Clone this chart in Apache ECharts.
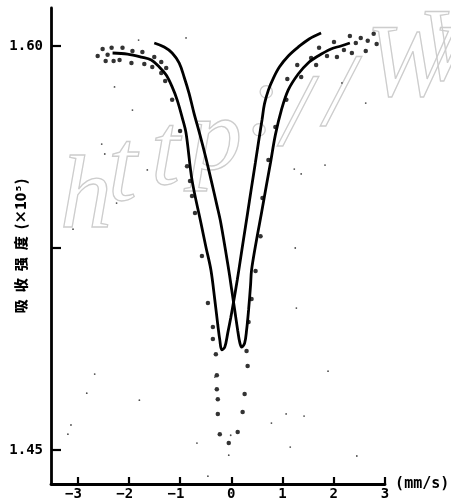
<!DOCTYPE html>
<html>
<head>
<meta charset="utf-8">
<script src="https://cdn.jsdelivr.net/npm/echarts@6/dist/echarts.min.js"></script>
<style>
html,body{margin:0;padding:0;background:#fff;}
#chart{width:451px;height:504px;}
</style>
</head>
<body>
<div id="chart"></div>
<script>
// ---- axis ticks / labels ----
const xTicks = [-3, -2, -1, 0, 1, 2, 3];
const yTicks = [1.45, 1.525, 1.60];
const yLabels = [1.45, 1.60];

// ---- fitted curve 1 (left minimum) ----
const fitA = [
  [-2.318,1.5974],[-2.027,1.5970],[-1.756,1.5959],[-1.562,1.5948],[-1.407,1.5922],
  [-1.271,1.5892],[-1.155,1.5848],[-1.058,1.5800],[-0.961,1.5736],[-0.884,1.5677],
  [-0.767,1.5502],[-0.593,1.5343],[-0.496,1.5254],[-0.399,1.5169],[-0.322,1.5057],
  [-0.264,1.4965],[-0.225,1.4909],[-0.186,1.4872],[-0.128,1.4882],[-0.070,1.4934],
  [-0.012,1.4990],[0.047,1.5053],[0.116,1.5131],[0.176,1.5205],[0.236,1.5280],
  [0.318,1.5380],[0.386,1.5465],[0.469,1.5566],[0.537,1.5651],[0.599,1.5725],
  [0.647,1.5785],[0.725,1.5837],[0.822,1.5881],[0.938,1.5922],[1.112,1.5963],
  [1.306,1.5996],[1.519,1.6026],[1.752,1.6048]
];

// ---- fitted curve 2 (right minimum) ----
const fitB = [
  [-1.504,1.6011],[-1.310,1.5996],[-1.155,1.5974],[-1.019,1.5937],[-0.922,1.5885],
  [-0.826,1.5825],[-0.729,1.5751],[-0.612,1.5670],[-0.496,1.5584],[-0.380,1.5491],
  [-0.283,1.5410],[-0.205,1.5343],
  [-0.050,1.5168],[0.008,1.5094],[0.066,1.5020],[0.124,1.4945],[0.163,1.4901],
  [0.202,1.4882],[0.260,1.4897],[0.298,1.4945],[0.337,1.5020],[0.376,1.5113],
  [0.395,1.5168],[0.492,1.5280],[0.589,1.5380],[0.686,1.5484],[0.764,1.5566],
  [0.860,1.5670],[0.977,1.5762],[1.112,1.5837],[1.306,1.5896],[1.500,1.5937],
  [1.694,1.5963],[1.946,1.5989],[2.140,1.6000],[2.314,1.6011]
];

// ---- measured points ----
const points = [
  [-2.609,1.5963],[-2.512,1.5989],[-2.453,1.5944],[-2.415,1.5967],[-2.337,1.5993],
  [-2.298,1.5944],[-2.182,1.5948],[-2.124,1.5993],[-1.950,1.5937],[-1.930,1.5981],
  [-1.736,1.5978],[-1.698,1.5933],[-1.543,1.5922],[-1.504,1.5959],[-1.368,1.5941],
  [-1.271,1.5918],[-1.368,1.5900],[-1.291,1.5870],[-1.155,1.5800],[-1.000,1.5684],
  [-0.864,1.5554],[-0.806,1.5499],[-0.767,1.5443],[-0.709,1.5380],[-0.574,1.5220],
  [-0.457,1.5046],[-0.360,1.4957],[-0.360,1.4912],[-0.302,1.4856],[-0.283,1.4778],
  [-0.283,1.4726],[-0.264,1.4689],[-0.264,1.4634],[-0.225,1.4559],[-0.050,1.4526],
  [0.124,1.4567],[0.221,1.4641],[0.260,1.4708],[0.318,1.4812],[0.298,1.4868],
  [0.337,1.4975],[0.395,1.5061],[0.473,1.5165],[0.570,1.5294],[0.608,1.5436],
  [0.725,1.5577],[0.860,1.5699],[1.074,1.5800],[1.093,1.5877],[1.287,1.5929],
  [1.364,1.5885],[1.558,1.5955],[1.655,1.5929],[1.713,1.5993],[1.868,1.5963],
  [2.004,1.6015],[2.062,1.5959],[2.198,1.5985],[2.314,1.6037],[2.353,1.5974],
  [2.430,1.6011],[2.527,1.6030],[2.624,1.5981],[2.663,1.6019],[2.779,1.6045],
  [2.837,1.6007]
];

// ---- small points / specks ----
const specks = [
  [-0.050,1.4481],[-0.012,1.4555],[-0.884,1.6030],[-0.322,1.4771],
  [-1.810,1.6022],[-2.280,1.5848],[-1.930,1.5762],[-2.667,1.4782],[-2.822,1.4711],
  [-3.130,1.4593],[-3.190,1.4559],[-1.795,1.4685],[-0.671,1.4526],[-0.457,1.4403],
  [0.783,1.4600],[1.248,1.5250],[1.229,1.5543],[1.364,1.5525],[1.829,1.5558],
  [2.159,1.5863],[2.624,1.5788],[1.270,1.5027],[1.888,1.4793],[1.070,1.4634],
  [1.420,1.4626],[1.150,1.4511],[2.450,1.4478],[-2.470,1.5599],[-1.640,1.5540],
  [-2.240,1.5417],[-3.090,1.5320],[-2.530,1.5636]
];

// ---- watermark glyphs ----
const wmChars = ['h','t','t','p',':','/','/','W','W'];
const wmPos = [[60,252],[108,225],[151,209],[190,194],[246,160],[282,170],[325,150],[366,120],[418,104]];

const chart = echarts.init(document.getElementById('chart'), null, {renderer:'canvas'});
const FONT = '"DejaVu Sans Mono", "Liberation Mono", monospace';

const graphic = wmChars.map((c, i) => ({
  type: 'text',
  x: wmPos[i][0], y: wmPos[i][1],
  z: -10,
  silent: true,
  style: {
    text: c,
    font: 'italic 104px "Liberation Serif", "DejaVu Serif", serif',
    fill: 'rgba(255,255,255,0)',
    stroke: '#cdcdcd',
    lineWidth: 1.3,
    verticalAlign: 'bottom',
    align: 'left'
  }
}));

chart.setOption({
  animation: false,
  backgroundColor: '#fff',
  graphic: graphic,
  grid: {left: 51, right: 66, top: 8, bottom: 20, containLabel: false, outerBoundsMode: 'none'},
  xAxis: {
    type: 'value',
    min: -3.52, max: 3,
    name: '(mm/s)',
    nameLocation: 'end',
    nameGap: 6,
    nameTextStyle: {color: '#000', fontFamily: FONT, fontWeight: 'bold', fontSize: 15, padding: [9, 0, 0, 0]},
    splitLine: {show: false},
    axisLine: {show: true, onZero: false, lineStyle: {color: '#000', width: 2.8}},
    axisTick: {show: true, inside: true, length: 7, lineStyle: {color: '#000', width: 2.2}, customValues: xTicks},
    axisLabel: {
      show: true, margin: 3, color: '#000', fontFamily: FONT, fontWeight: 'bold', fontSize: 14,
      customValues: xTicks,
      formatter: v => v < 0 ? '\u2212' + Math.abs(v) + '\u2002' : String(v)
    }
  },
  yAxis: {
    type: 'value',
    min: 1.4374, max: 1.6141,
    name: '吸\u2002收\u2002强\u2002度\u2002(×10⁵)',
    nameLocation: 'middle',
    nameRotate: 90,
    nameGap: 23,
    nameMoveOverlap: false,
    nameTextStyle: {color: '#000', fontFamily: '"Noto Sans CJK SC", "DejaVu Sans Mono", sans-serif', fontWeight: 900, fontSize: 14},
    splitLine: {show: false},
    axisLine: {show: true, onZero: false, lineStyle: {color: '#000', width: 2.8}},
    axisTick: {show: true, inside: true, length: 10, lineStyle: {color: '#000', width: 2.2}, customValues: yTicks},
    axisLabel: {
      show: true, margin: 8, color: '#000', fontFamily: FONT, fontWeight: 'bold', fontSize: 14,
      customValues: yLabels,
      formatter: v => v.toFixed(2)
    }
  },
  series: [
    {type: 'line', data: fitA, smooth: 0.35, showSymbol: false, symbol: 'none', z: 3,
     lineStyle: {color: '#000', width: 2.8}},
    {type: 'line', data: fitB, smooth: 0.35, showSymbol: false, symbol: 'none', z: 3,
     lineStyle: {color: '#000', width: 2.8}},
    {type: 'scatter', data: points, symbol: 'circle', symbolSize: 4.5, z: 4,
     itemStyle: {color: '#000'}},
    {type: 'scatter', data: specks, symbol: 'circle', symbolSize: 1.8, z: 4,
     itemStyle: {color: '#222'}}
  ]
});
</script>
</body>
</html>
